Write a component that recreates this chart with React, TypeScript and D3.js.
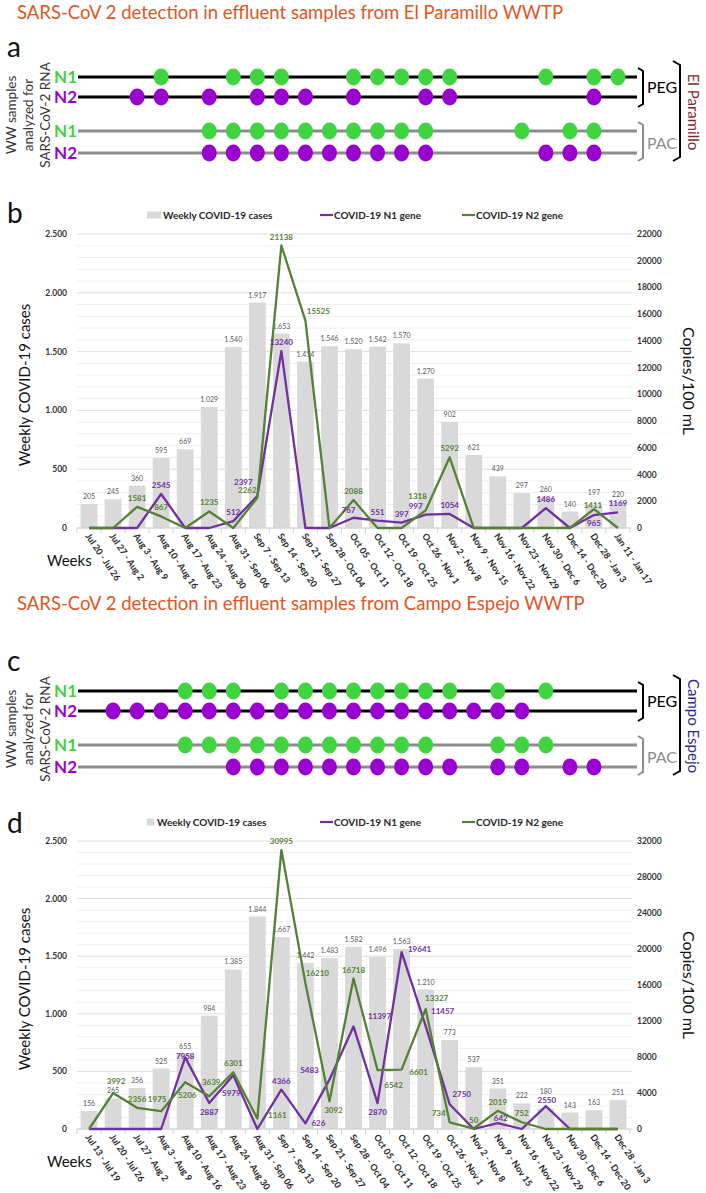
import React from 'react';
import * as d3 from 'd3';

// El Paramillo (panel b)
const weeksB = ['Jul 20 - Jul 26', 'Jul 27 - Aug 2', 'Aug 3 - Aug 9', 'Aug 10 - Aug 16', 'Aug 17 - Aug 23', 'Aug 24 - Aug 30', 'Aug 31 - Sep 06', 'Sep 7 - Sep 13', 'Sep 14 - Sep 20', 'Sep 21 - Sep 27', 'Sep 28 - Oct 04', 'Oct 05 - Oct 11', 'Oct 12 - Oct 18', 'Oct 19 - Oct 25', 'Oct 26 - Nov 1', 'Nov 2 - Nov 8', 'Nov 9 - Nov 15', 'Nov 16 - Nov 22', 'Nov 23 - Nov 29', 'Nov 30 - Dec 6', 'Dec 14 - Dec 20', 'Dec 28 - Jan 3', 'Jan 11 - Jan 17'];
const casesB = [205, 245, 360, 595, 669, 1029, 1540, 1917, 1653, 1414, 1546, 1520, 1542, 1570, 1270, 902, 621, 439, 297, 260, 140, 197, 220];
const n1B = [0, 0, 0, 2545, 0, 0, 512, 2397, 13240, 0, 0, 767, 551, 397, 997, 1054, 0, 0, 0, 1486, 0, 965, 1169];
const n2B = [0, 0, 1581, 867, 0, 1235, 0, 2262, 21138, 15525, 0, 2088, 0, 0, 1318, 5292, 0, 0, 0, 0, 0, 1411, 0];

// Campo Espejo (panel d)
const weeksD = ['Jul 13 - Jul 19', 'Jul 20 - Jul 26', 'Jul 27 - Aug 2', 'Aug 3 - Aug 9', 'Aug 10 - Aug 16', 'Aug 17 - Aug 23', 'Aug 24 - Aug 30', 'Aug 31 - Sep 06', 'Sep 7 - Sep 13', 'Sep 14 - Sep 20', 'Sep 21 - Sep 27', 'Sep 28 - Oct 04', 'Oct 05 - Oct 11', 'Oct 12 - Oct 18', 'Oct 19 - Oct 25', 'Oct 26 - Nov 1', 'Nov 2 - Nov 8', 'Nov 9 - Nov 15', 'Nov 16 - Nov 22', 'Nov 23 - Nov 29', 'Nov 30 - Dec 6', 'Dec 14 - Dec 20', 'Dec 28 - Jan 3'];
const casesD = [156, 265, 356, 525, 655, 984, 1385, 1844, 1667, 1442, 1483, 1582, 1496, 1563, 1210, 773, 537, 351, 222, 180, 143, 163, 251];
const n1D = [0, 0, 0, 0, 7958, 2887, 5979, 0, 4366, 626, 5483, 11397, 2870, 19641, 11457, 2750, 0, 642, 0, 2550, 0, 0, 0];
const n2D = [0, 3992, 2356, 1975, 5206, 3639, 6301, 1161, 30995, 16210, 3092, 16718, 6542, 6601, 13327, 734, 50, 2019, 752, 0, 0, 0, 0];

// week indexes with a detection, per row (panels a and c)
const pegN1A = [3, 6, 7, 8, 11, 12, 13, 14, 15, 19, 21, 22];
const pegN2A = [2, 3, 5, 7, 8, 9, 11, 14, 15, 21];
const pacN1A = [5, 6, 7, 8, 9, 10, 11, 12, 13, 14, 18, 20, 21];
const pacN2A = [5, 6, 7, 8, 9, 10, 11, 12, 13, 14, 19, 20, 21];
const pegN1C = [4, 5, 6, 8, 9, 10, 11, 12, 13, 14, 15, 17, 19];
const pegN2C = [1, 2, 3, 4, 5, 6, 7, 8, 9, 10, 11, 12, 13, 14, 15, 16, 17, 18];
const pacN1C = [4, 5, 6, 7, 8, 9, 10, 11, 12, 13, 14, 17, 18, 19];
const pacN2C = [6, 7, 8, 9, 10, 11, 12, 13, 14, 15, 17, 18, 20, 21];

const leftTicks = [0, 500, 1000, 1500, 2000, 2500];
const rightTicksB = [0, 2000, 4000, 6000, 8000, 10000, 12000, 14000, 16000, 18000, 20000, 22000];
const rightTicksD = [0, 4000, 8000, 12000, 16000, 20000, 24000, 28000, 32000];

const FONT = 'Lato, "Open Sans", sans-serif';
const DOT_GREEN = '#40d440';
const DOT_PURPLE = '#9a00cf';
const LINE_N1 = '#7030a0';
const LINE_N2 = '#548235';

const fmtCases = d3.formatLocale({ decimal: ',', thousands: '.', grouping: [3], currency: ['', ''] }).format(',d');

// label offsets from the point (label centre), default is straight above
const nudgeN1B = { 7: [-14, -14], 11: [-5, -8], 14: [-10, -9], 21: [0, 8] };
const nudgeN2B = { 7: [-10, -8], 9: [13, -10], 14: [-8, -14], 21: [-1, -4] };
const nudgeN1D = { 4: [0, -1], 5: [0, 9], 6: [-2, 18], 9: [13, 0], 10: [-20, -10], 11: [26, -10], 12: [0, 9], 13: [18, -3], 14: [17, -15], 15: [12, -10], 17: [3, -5], 19: [1, -6] };
const nudgeN2D = { 1: [3, -12], 3: [-4, -12], 4: [2, 13], 5: [2, -14], 7: [20, -4], 9: [12, -10], 10: [4, 9], 12: [16, 15], 13: [17, 2], 14: [11, -11], 15: [-11, -9] };
// extra lift for a few case labels that sit on a line label
const barLiftB = { 21: 5 };
const barLiftD = { 19: 9 };

const X0 = 77;
const X1 = 630;

function Chart({ weeks, cases, n1, n2, rightTicks, top, bottom, legendY, letter, letterY, nudge1, nudge2, barLift, wideSquare }) {
  const x = d3.scaleBand().domain(weeks).range([X0, X1]).paddingInner(0.3).paddingOuter(0.15);
  const cx = (i) => x(weeks[i]) + x.bandwidth() / 2;
  const yL = d3.scaleLinear().domain([0, 2500]).range([bottom, top]);
  const yR = d3.scaleLinear().domain([0, rightTicks[rightTicks.length - 1]]).range([bottom, top]);
  const line = d3.line().x((_, i) => cx(i)).y((d) => yR(d));
  const grid = d3.range(0, 2501, 100);
  const bounds = d3.range(weeks.length + 1).map((i) => X0 + x.step() * i);

  const seriesLabels = (vals, color, nudge) =>
    vals.map((v, i) => {
      if (!v) return null;
      const [dx, dy] = nudge[i] || [0, -9];
      return (
        <text key={i} x={cx(i) + dx} y={yR(v) + dy + 3} textAnchor="middle" fontSize={8} fontWeight="bold" fill={color}>
          {v}
        </text>
      );
    });

  const mid = (top + bottom) / 2;
  return (
    <g fontFamily={FONT}>
      <text x={7} y={letterY} fontSize={28} fill="#111">{letter}</text>
      {/* legend */}
      <rect x={147} y={legendY - 3.5} width={wideSquare ? 14 : 7} height={7} fill="#d9d9d9" />
      <text x={wideSquare ? 163 : 157} y={legendY + 3.5} fontSize={10} fontWeight="bold" fill="#262626">Weekly COVID-19 cases</text>
      <line x1={320} x2={333} y1={legendY} y2={legendY} stroke={LINE_N1} strokeWidth={2.2} />
      <text x={334} y={legendY + 3.5} fontSize={10} fontWeight="bold" fill="#262626">COVID-19 N1 gene</text>
      <line x1={462} x2={475} y1={legendY} y2={legendY} stroke={LINE_N2} strokeWidth={2.2} />
      <text x={476} y={legendY + 3.5} fontSize={10} fontWeight="bold" fill="#262626">COVID-19 N2 gene</text>

      {grid.map((g) => (
        <line key={g} x1={X0} x2={X1 + 2} y1={yL(g)} y2={yL(g)} stroke={g % 500 === 0 ? '#dedede' : '#efefef'} strokeWidth={1} />
      ))}
      {leftTicks.map((t) => (
        <text key={t} x={67} y={yL(t) + 3} textAnchor="end" fontSize={8.5} fontWeight="bold" fill="#333">{fmtCases(t)}</text>
      ))}
      {rightTicks.map((t) => (
        <text key={t} x={637} y={yR(t) + 3} fontSize={8.5} fontWeight="bold" fill="#333">{t}</text>
      ))}

      {cases.map((c, i) => (
        <rect key={i} x={x(weeks[i])} y={yL(c)} width={x.bandwidth()} height={bottom - yL(c)} fill="#d9d9d9" />
      ))}
      {cases.map((c, i) => (
        <text key={i} x={cx(i)} y={yL(c) - 5 - (barLift[i] || 0)} textAnchor="middle" fontSize={7} fill="#595959">{fmtCases(c)}</text>
      ))}

      <line x1={X0} x2={X1} y1={bottom} y2={bottom} stroke="#d0d0d0" />
      {bounds.map((b, i) => (
        <line key={i} x1={b} x2={b} y1={bottom} y2={bottom + 5} stroke="#d0d0d0" />
      ))}

      <path d={line(n1)} fill="none" stroke={LINE_N1} strokeWidth={2.3} strokeLinejoin="round" />
      <path d={line(n2)} fill="none" stroke={LINE_N2} strokeWidth={2.3} strokeLinejoin="round" />
      {seriesLabels(n1, LINE_N1, nudge1)}
      {seriesLabels(n2, LINE_N2, nudge2)}

      {weeks.map((w, i) => (
        <text key={w} transform={`translate(${cx(i) - 4},${bottom + 8}) rotate(56)`} fontSize={9} fontWeight="bold" fill="#262626">{w}</text>
      ))}
      <text x={47} y={bottom + 38} fontSize={15} fill="#111">Weeks</text>
      <text transform={`translate(30,${mid + 4}) rotate(-90)`} textAnchor="middle" fontSize={15} fill="#111">Weekly COVID-19 cases</text>
      <text transform={`translate(683,${mid}) rotate(90)`} textAnchor="middle" fontSize={16} fill="#111">Copies/100 mL</text>
    </g>
  );
}

function DotPanel({ weeks, top, letter, rows, site, siteColor }) {
  const x = d3.scaleBand().domain(weeks).range([X0, X1]).paddingInner(0.3).paddingOuter(0.15);
  const cx = (i) => x(weeks[i]) + x.bandwidth() / 2;
  const ys = [77, 97, 131, 153].map((v) => v + top);
  return (
    <g fontFamily={FONT}>
      <text x={7} y={top + 57} fontSize={28} fill="#111">{letter}</text>
      <g transform={`translate(0,${top + 115})`} fill="#333" fontSize={13.5} textAnchor="middle">
        <text transform="translate(16,0) rotate(-90)">WW samples</text>
        <text transform="translate(33,0) rotate(-90)">analyzed for</text>
        <text transform="translate(50,0) rotate(-90)">SARS-CoV-2 RNA</text>
      </g>
      {rows.map((r, k) => (
        <g key={k}>
          <text x={77} y={ys[k] + 6} textAnchor="end" fontSize={17} fontWeight="bold" fill={r.color}>{r.label}</text>
          <line x1={78} x2={637} y1={ys[k]} y2={ys[k]} stroke={r.peg ? '#000' : '#8c8c8c'} strokeWidth={3} />
          {r.idx.map((i) => (
            <ellipse key={i} cx={cx(i)} cy={ys[k]} rx={7.5} ry={8.5} fill={r.color} />
          ))}
        </g>
      ))}
      <path d={`M638,${top + 68} L643,${top + 71} L643,${top + 104} L638,${top + 107}`} fill="none" stroke="#000" strokeWidth={2} />
      <text x={647} y={top + 93} fontSize={16} fill="#000">PEG</text>
      <path d={`M638,${top + 122} L643,${top + 125} L643,${top + 158} L638,${top + 161}`} fill="none" stroke="#8c8c8c" strokeWidth={2} />
      <text x={647} y={top + 149} fontSize={16} fill="#8c8c8c">PAC</text>
      <path d={`M673,${top + 61} L680,${top + 65} L680,${top + 157} L673,${top + 161}`} fill="none" stroke="#000" strokeWidth={2} />
      <text transform={`translate(688,${top + 112}) rotate(90)`} textAnchor="middle" fontSize={15} fill={siteColor}>{site}</text>
    </g>
  );
}

export default function App() {
  return (
    <svg width={706} height={1193} style={{ position: 'absolute', left: 0, top: 0, background: '#fff' }}>
      <rect width={706} height={1193} fill="#fff" />
      <text x={17} y={19} fontFamily={FONT} fontSize={18.5} fill="#e0561f">SARS-CoV 2 detection in effluent samples from El Paramillo WWTP</text>
      <DotPanel
        weeks={weeksB}
        top={0}
        letter="a"
        site="El Paramillo"
        siteColor="#7b2d2d"
        rows={[
          { label: 'N1', color: DOT_GREEN, idx: pegN1A, peg: true },
          { label: 'N2', color: DOT_PURPLE, idx: pegN2A, peg: true },
          { label: 'N1', color: DOT_GREEN, idx: pacN1A, peg: false },
          { label: 'N2', color: DOT_PURPLE, idx: pacN2A, peg: false },
        ]}
      />
      <Chart weeks={weeksB} cases={casesB} n1={n1B} n2={n2B} rightTicks={rightTicksB} top={234} bottom={528}
        legendY={215} letter="b" letterY={223} nudge1={nudgeN1B} nudge2={nudgeN2B} barLift={barLiftB} wideSquare={true} />

      <text x={17} y={610} fontFamily={FONT} fontSize={18.5} fill="#e0561f">SARS-CoV 2 detection in effluent samples from Campo Espejo WWTP</text>
      <DotPanel
        weeks={weeksD}
        top={614}
        letter="c"
        site="Campo Espejo"
        siteColor="#2b2b8c"
        rows={[
          { label: 'N1', color: DOT_GREEN, idx: pegN1C, peg: true },
          { label: 'N2', color: DOT_PURPLE, idx: pegN2C, peg: true },
          { label: 'N1', color: DOT_GREEN, idx: pacN1C, peg: false },
          { label: 'N2', color: DOT_PURPLE, idx: pacN2C, peg: false },
        ]}
      />
      <Chart weeks={weeksD} cases={casesD} n1={n1D} n2={n2D} rightTicks={rightTicksD} top={841} bottom={1129}
        legendY={822} letter="d" letterY={833} nudge1={nudgeN1D} nudge2={nudgeN2D} barLift={barLiftD} wideSquare={false} />
    </svg>
  );
}
